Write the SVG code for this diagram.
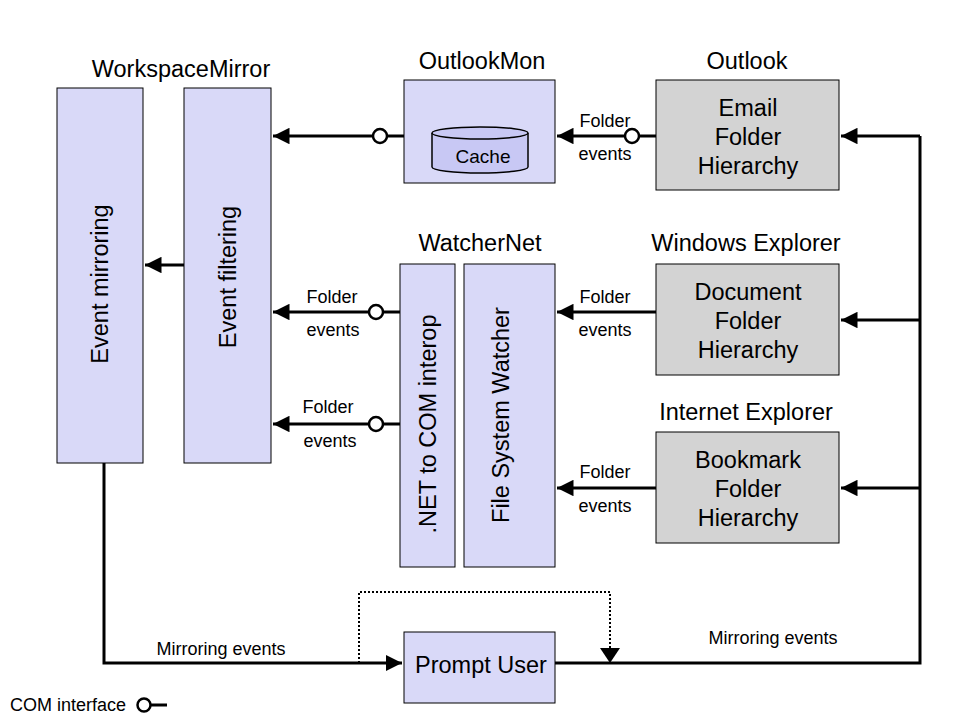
<svg xmlns="http://www.w3.org/2000/svg" width="960" height="720" viewBox="0 0 960 720">
<style>
text{font-family:"Liberation Sans",Arial,sans-serif;fill:#000}
.blue{fill:#d9d9f8;stroke:#000;stroke-width:1}
.gray{fill:#d3d3d3;stroke:#000;stroke-width:1}
.t22{font-size:23.5px;text-anchor:middle}
.t16{font-size:18px;text-anchor:middle}
.c{fill:none;stroke:#000;stroke-width:3}
.d{fill:none;stroke:#000;stroke-width:2;stroke-dasharray:2,2}
.ci{fill:#fff;stroke:#000;stroke-width:2.5}
</style>
<defs>
<marker id="ah" viewBox="0 0 10 10" refX="10" refY="5" markerWidth="5.5" markerHeight="5.5" markerUnits="strokeWidth" orient="auto">
<path d="M0,0 L10,5 L0,10 Z" fill="#000"/>
</marker>
<marker id="ahd" viewBox="0 0 15 20" refX="15" refY="10" markerWidth="7.5" markerHeight="10" markerUnits="strokeWidth" orient="auto">
<path d="M0,0 L15,10 L0,20 Z" fill="#000"/>
</marker>
</defs>
<rect width="960" height="720" fill="#fff"/>

<g id="connectors">
<line class="c" x1="404" y1="136" x2="273" y2="136" marker-end="url(#ah)"/>
<line class="c" x1="656" y1="136" x2="557" y2="136" marker-end="url(#ah)"/>
<line class="c" x1="400" y1="312" x2="273" y2="312" marker-end="url(#ah)"/>
<line class="c" x1="400" y1="424" x2="273" y2="424" marker-end="url(#ah)"/>
<line class="c" x1="656" y1="312" x2="557" y2="312" marker-end="url(#ah)"/>
<line class="c" x1="656" y1="488" x2="557" y2="488" marker-end="url(#ah)"/>
<line class="c" x1="184" y1="265" x2="145" y2="265" marker-end="url(#ah)"/>
<polyline class="c" points="555,663 920,663 920,136"/>
<line class="c" x1="920" y1="136" x2="841" y2="136" marker-end="url(#ah)"/>
<line class="c" x1="920" y1="320" x2="841" y2="320" marker-end="url(#ah)"/>
<line class="c" x1="920" y1="488" x2="841" y2="488" marker-end="url(#ah)"/>
<polyline class="c" points="104,463 104,663 402,663" marker-end="url(#ah)"/>
<polyline class="d" points="359,663 359,592 610,592 610,663" marker-end="url(#ahd)"/>
<circle class="ci" cx="380" cy="136" r="7"/>
<circle class="ci" cx="632" cy="136" r="7"/>
<circle class="ci" cx="376" cy="312" r="7"/>
<circle class="ci" cx="376" cy="424" r="7"/>
<text class="t16" x="605" y="127">Folder</text>
<text class="t16" x="605" y="160">events</text>
<text class="t16" x="332" y="303">Folder</text>
<text class="t16" x="333" y="336">events</text>
<text class="t16" x="328" y="413">Folder</text>
<text class="t16" x="330" y="447">events</text>
<text class="t16" x="605" y="303">Folder</text>
<text class="t16" x="605" y="336">events</text>
<text class="t16" x="605" y="478">Folder</text>
<text class="t16" x="605" y="512">events</text>
<text class="t16" x="221" y="655">Mirroring events</text>
<text class="t16" x="773" y="644">Mirroring events</text>
</g>

<g id="workspacemirror">
<text class="t22" x="181" y="77">WorkspaceMirror</text>
</g>
<g id="event-mirroring">
<rect class="blue" x="57" y="88" width="86" height="375"/>
<text class="t22" transform="translate(108,284) rotate(-90)">Event mirroring</text>
</g>
<g id="event-filtering">
<rect class="blue" x="184" y="88" width="87" height="375"/>
<text class="t22" transform="translate(236,277) rotate(-90)">Event filtering</text>
</g>

<g id="outlookmon">
<text class="t22" x="482" y="69">OutlookMon</text>
<rect class="blue" x="404" y="80" width="151" height="103"/>
<path d="M432,133 L432,167 A48,6 0 0 0 528,167 L528,133" fill="#c8c8f4" stroke="#000" stroke-width="1.5"/>
<ellipse cx="480" cy="133" rx="48" ry="6" fill="#c8c8f4" stroke="#000" stroke-width="1.5"/>
<text class="t16" x="483" y="163" style="font-size:19px">Cache</text>
</g>

<g id="outlook">
<text class="t22" x="747" y="69">Outlook</text>
<rect class="gray" x="656" y="80" width="183" height="110"/>
<text class="t22" x="748" y="116">Email</text>
<text class="t22" x="748" y="145">Folder</text>
<text class="t22" x="748" y="174">Hierarchy</text>
</g>

<g id="watchernet">
<text class="t22" x="480" y="251">WatcherNet</text>
</g>
<g id="net-com-interop">
<rect class="blue" x="400" y="264" width="55" height="303"/>
<text class="t22" transform="translate(436,424) rotate(-90)">.NET to COM interop</text>
</g>
<g id="file-system-watcher">
<rect class="blue" x="464" y="264" width="91" height="303"/>
<text class="t22" transform="translate(509,415) rotate(-90)">File System Watcher</text>
</g>

<g id="windows-explorer">
<text class="t22" x="746" y="251">Windows Explorer</text>
<rect class="gray" x="656" y="264" width="183" height="111"/>
<text class="t22" x="748" y="300">Document</text>
<text class="t22" x="748" y="329">Folder</text>
<text class="t22" x="748" y="358">Hierarchy</text>
</g>

<g id="internet-explorer">
<text class="t22" x="746" y="420">Internet Explorer</text>
<rect class="gray" x="656" y="432" width="183" height="111"/>
<text class="t22" x="748" y="468">Bookmark</text>
<text class="t22" x="748" y="497">Folder</text>
<text class="t22" x="748" y="526">Hierarchy</text>
</g>

<g id="prompt-user">
<rect class="blue" x="404" y="632" width="151" height="71"/>
<text class="t22" x="481" y="673">Prompt User</text>
</g>

<g id="legend">
<text x="10" y="711" style="font-size:18px">COM interface</text>
<line class="c" x1="150" y1="705" x2="167" y2="705"/>
<circle class="ci" cx="144" cy="705" r="6.5"/>
</g>
</svg>
